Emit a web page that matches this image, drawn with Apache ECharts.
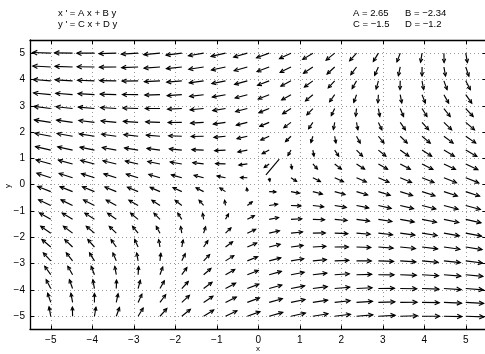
<!DOCTYPE html>
<html>
<head>
<meta charset="utf-8">
<script src="https://cdn.jsdelivr.net/npm/echarts@6/dist/echarts.min.js"></script>
<style>
  html, body { margin: 0; padding: 0; background: #fff; }
  #chart { width: 485px; height: 354px; }
</style>
</head>
<body>
<div id="chart"></div>
<script>
// system shown in the header: x' = A x + B y, y' = C x + D y
const coefA = 2.65;
const coefB = -2.34;
const coefC = -1.5;
const coefD = -1.2;

// sample points of the direction field (20 x 20 grid)
const gridX = [-5, -4.474, -3.947, -3.421, -2.895, -2.368, -1.842, -1.316, -0.789, -0.263,
               0.263, 0.789, 1.316, 1.842, 2.368, 2.895, 3.421, 3.947, 4.474, 5];
const gridY = [-5, -4.474, -3.947, -3.421, -2.895, -2.368, -1.842, -1.316, -0.789, -0.263,
               0.263, 0.789, 1.316, 1.842, 2.368, 2.895, 3.421, 3.947, 4.474, 5];

// the lone segment near the origin
const segment = [[0.186, 0.377], [0.506, 0.97]];

const headerLeft = ["x ' = A x + B y", "y ' = C x + D y"];
const headerRight = [["A = 2.65", "B = \u22122.34"], ["C = \u22121.5", "D = \u22121.2"]];

const FONT = "Liberation Sans, Arial, Helvetica, sans-serif";
const ARROW_LEN = 0.44;   // data units for the strongest vector

const field = [];
gridX.forEach(x => {
  gridY.forEach(y => {
    field.push([x, y, coefA * x + coefB * y, coefC * x + coefD * y]);
  });
});
const maxMag = Math.max(...field.map(d => Math.hypot(d[2], d[3])));

function renderArrow(params, api) {
  const x = api.value(0), y = api.value(1);
  const u = api.value(2), v = api.value(3);
  const m = Math.hypot(u, v);
  const len = ARROW_LEN * Math.cbrt(m / maxMag);
  const p0 = api.coord([x, y]);
  const p1 = api.coord([x + len * u / m, y + len * v / m]);
  const dx = p1[0] - p0[0], dy = p1[1] - p0[1];
  const pl = Math.hypot(dx, dy);
  const h = 2.5 + 0.15 * pl;
  const ang = Math.atan2(dy, dx);
  const spread = 0.45;
  const h1 = [p1[0] - h * Math.cos(ang - spread), p1[1] - h * Math.sin(ang - spread)];
  const h2 = [p1[0] - h * Math.cos(ang + spread), p1[1] - h * Math.sin(ang + spread)];
  const style = { stroke: "#000", lineWidth: 1.15, fill: null, lineJoin: "miter" };
  return {
    type: "group",
    children: [
      { type: "line", shape: { x1: p0[0], y1: p0[1], x2: p1[0], y2: p1[1] }, style },
      { type: "polyline", shape: { points: [h1, p1, h2] }, style },
    ],
  };
}

const chart = echarts.init(document.getElementById("chart"), null, { renderer: "canvas" });

const axisBase = {
  type: "value",
  min: -5.5,
  max: 5.5,
  minInterval: 1,
  maxInterval: 1,
  axisLine: { show: true, onZero: false, lineStyle: { color: "#000", width: 1.3 } },
  axisTick: { show: true, inside: true, length: 4, lineStyle: { color: "#000" } },
};

const texts = [];
headerLeft.forEach((t, i) => {
  texts.push({ type: "text", left: 58, top: 8 + i * 11,
    style: { text: t, font: `9.5px ${FONT}`, fill: "#000" } });
});
headerRight.forEach((row, i) => {
  row.forEach((t, j) => {
    texts.push({ type: "text", left: 353 + j * 52, top: 8 + i * 11,
      style: { text: t, font: `9.5px ${FONT}`, fill: "#000" } });
  });
});
// axis names
texts.push({ type: "text", x: 258, y: 349,
  style: { text: "x", font: `8px ${FONT}`, fill: "#000", align: "center", verticalAlign: "middle" } });
texts.push({ type: "text", x: 8, y: 186, rotation: Math.PI / 2,
  style: { text: "y", font: `8px ${FONT}`, fill: "#000", align: "center", verticalAlign: "middle" } });

chart.setOption({
  animation: false,
  backgroundColor: "#fff",
  grid: { left: 30, top: 40, width: 456.5, height: 289.4, containLabel: false, outerBoundsMode: "none" },
  textStyle: { fontFamily: FONT },
  xAxis: [
    {
      ...axisBase,
      position: "bottom",
      axisLabel: { color: "#000", fontSize: 10, fontFamily: FONT, margin: 6,
        showMinLabel: false, showMaxLabel: false,
        formatter: v => String(v).replace("-", "\u2212") },
      splitLine: { show: true, lineStyle: { color: "#999", type: [1, 3], width: 1 } },
    },
    {
      ...axisBase,
      position: "top",
      axisLabel: { show: false },
      splitLine: { show: false },
    },
  ],
  yAxis: [
    {
      ...axisBase,
      position: "left",
      axisLabel: { color: "#000", fontSize: 10, fontFamily: FONT, margin: 5,
        showMinLabel: false, showMaxLabel: false,
        formatter: v => String(v).replace("-", "\u2212") },
      splitLine: { show: true, lineStyle: { color: "#999", type: [1, 3], width: 1 } },
    },
    {
      ...axisBase,
      position: "right",
      axisLabel: { show: false },
      splitLine: { show: false },
    },
  ],
  graphic: texts,
  series: [
    {
      type: "custom",
      renderItem: renderArrow,
      data: field,
      encode: { x: 0, y: 1 },
      silent: true,
      clip: false,
      z: 5,
    },
    {
      type: "line",
      data: segment,
      symbol: "none",
      silent: true,
      lineStyle: { color: "#000", width: 1.15 },
      z: 5,
    },
  ],
});
</script>
</body>
</html>
